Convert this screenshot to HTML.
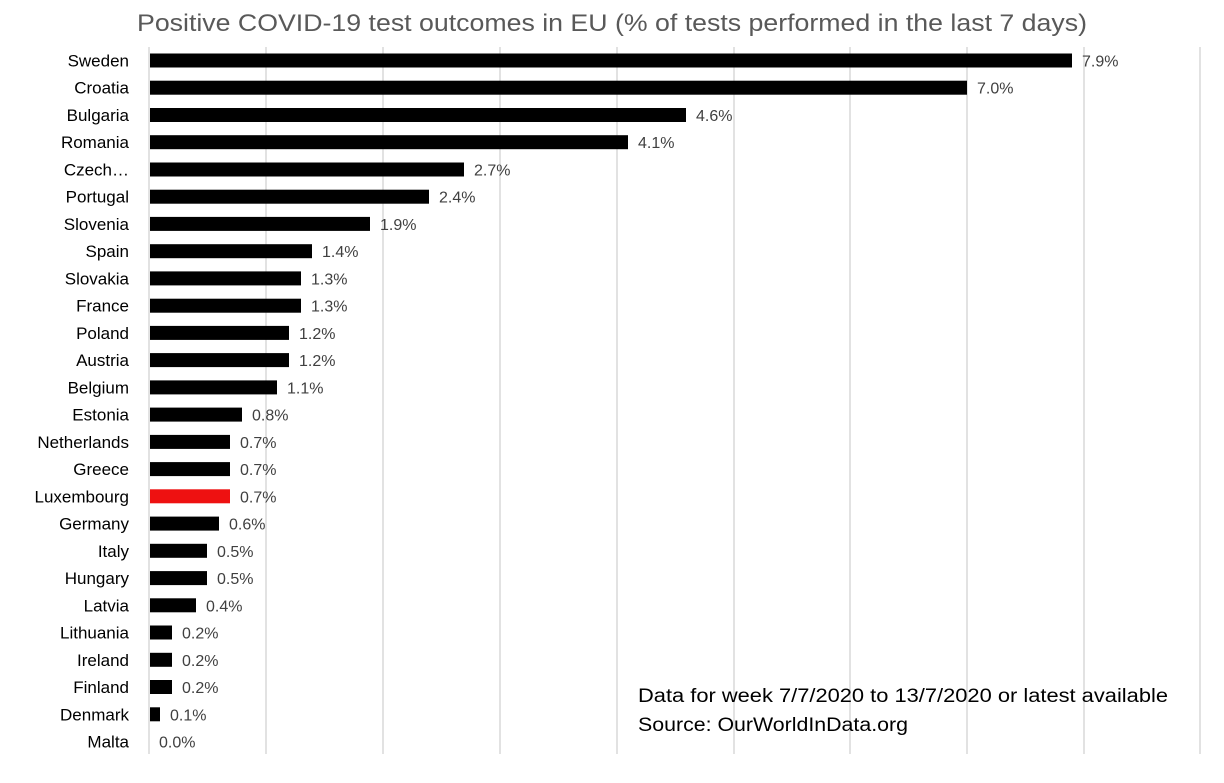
<!DOCTYPE html>
<html><head><meta charset="utf-8"><style>
body{margin:0;background:#fff;}
svg text{font-family:"Liberation Sans",sans-serif;}
.l{font-size:17px;fill:#000;text-anchor:end}
.v{font-size:16px;fill:#404040}
</style></head><body>
<svg width="1224" height="778" xmlns="http://www.w3.org/2000/svg">
<rect width="1224" height="778" fill="#fff"/>
<text x="137" y="31" font-size="24" fill="#595959" textLength="950" lengthAdjust="spacingAndGlyphs">Positive COVID-19 test outcomes in EU (% of tests performed in the last 7 days)</text>
<g stroke="#d9d9d9" stroke-width="1.5">
<line x1="149" y1="47" x2="149" y2="754"/><line x1="266" y1="47" x2="266" y2="754"/><line x1="383" y1="47" x2="383" y2="754"/><line x1="500" y1="47" x2="500" y2="754"/><line x1="617" y1="47" x2="617" y2="754"/><line x1="734" y1="47" x2="734" y2="754"/><line x1="850" y1="47" x2="850" y2="754"/><line x1="967" y1="47" x2="967" y2="754"/><line x1="1084" y1="47" x2="1084" y2="754"/><line x1="1200" y1="47" x2="1200" y2="754"/>
</g>
<g fill="#000">
<rect x="150" y="53.5" width="922" height="14"/>
<rect x="150" y="80.7" width="817" height="14"/>
<rect x="150" y="108" width="536" height="14"/>
<rect x="150" y="135.2" width="478" height="14"/>
<rect x="150" y="162.5" width="314" height="14"/>
<rect x="150" y="189.7" width="279" height="14"/>
<rect x="150" y="216.9" width="220" height="14"/>
<rect x="150" y="244.2" width="162" height="14"/>
<rect x="150" y="271.4" width="151" height="14"/>
<rect x="150" y="298.7" width="151" height="14"/>
<rect x="150" y="325.9" width="139" height="14"/>
<rect x="150" y="353.1" width="139" height="14"/>
<rect x="150" y="380.4" width="127" height="14"/>
<rect x="150" y="407.6" width="92" height="14"/>
<rect x="150" y="434.9" width="80" height="14"/>
<rect x="150" y="462.1" width="80" height="14"/>
<rect x="150" y="489.3" width="80" height="14" fill="#ee1111"/>
<rect x="150" y="516.6" width="69" height="14"/>
<rect x="150" y="543.8" width="57" height="14"/>
<rect x="150" y="571.1" width="57" height="14"/>
<rect x="150" y="598.3" width="46" height="14"/>
<rect x="150" y="625.5" width="22" height="14"/>
<rect x="150" y="652.8" width="22" height="14"/>
<rect x="150" y="680" width="22" height="14"/>
<rect x="150" y="707.3" width="10" height="14"/>
</g>
<text class="l" x="129" y="66.5">Sweden</text><text class="v" x="1082" y="66.5">7.9%</text>
<text class="l" x="129" y="93.7">Croatia</text><text class="v" x="977" y="93.7">7.0%</text>
<text class="l" x="129" y="121">Bulgaria</text><text class="v" x="696" y="121">4.6%</text>
<text class="l" x="129" y="148.2">Romania</text><text class="v" x="638" y="148.2">4.1%</text>
<text class="l" x="129" y="175.5">Czech…</text><text class="v" x="474" y="175.5">2.7%</text>
<text class="l" x="129" y="202.7">Portugal</text><text class="v" x="439" y="202.7">2.4%</text>
<text class="l" x="129" y="229.9">Slovenia</text><text class="v" x="380" y="229.9">1.9%</text>
<text class="l" x="129" y="257.2">Spain</text><text class="v" x="322" y="257.2">1.4%</text>
<text class="l" x="129" y="284.4">Slovakia</text><text class="v" x="311" y="284.4">1.3%</text>
<text class="l" x="129" y="311.7">France</text><text class="v" x="311" y="311.7">1.3%</text>
<text class="l" x="129" y="338.9">Poland</text><text class="v" x="299" y="338.9">1.2%</text>
<text class="l" x="129" y="366.1">Austria</text><text class="v" x="299" y="366.1">1.2%</text>
<text class="l" x="129" y="393.4">Belgium</text><text class="v" x="287" y="393.4">1.1%</text>
<text class="l" x="129" y="420.6">Estonia</text><text class="v" x="252" y="420.6">0.8%</text>
<text class="l" x="129" y="447.9">Netherlands</text><text class="v" x="240" y="447.9">0.7%</text>
<text class="l" x="129" y="475.1">Greece</text><text class="v" x="240" y="475.1">0.7%</text>
<text class="l" x="129" y="502.3">Luxembourg</text><text class="v" x="240" y="502.3">0.7%</text>
<text class="l" x="129" y="529.6">Germany</text><text class="v" x="229" y="529.6">0.6%</text>
<text class="l" x="129" y="556.8">Italy</text><text class="v" x="217" y="556.8">0.5%</text>
<text class="l" x="129" y="584.1">Hungary</text><text class="v" x="217" y="584.1">0.5%</text>
<text class="l" x="129" y="611.3">Latvia</text><text class="v" x="206" y="611.3">0.4%</text>
<text class="l" x="129" y="638.5">Lithuania</text><text class="v" x="182" y="638.5">0.2%</text>
<text class="l" x="129" y="665.8">Ireland</text><text class="v" x="182" y="665.8">0.2%</text>
<text class="l" x="129" y="693">Finland</text><text class="v" x="182" y="693">0.2%</text>
<text class="l" x="129" y="720.3">Denmark</text><text class="v" x="170" y="720.3">0.1%</text>
<text class="l" x="129" y="747.5">Malta</text><text class="v" x="159" y="747.5">0.0%</text>
<text x="638" y="702" font-size="19" fill="#000" textLength="530" lengthAdjust="spacingAndGlyphs">Data for week 7/7/2020 to 13/7/2020 or latest available</text>
<text x="638" y="731" font-size="19" fill="#000" textLength="270" lengthAdjust="spacingAndGlyphs">Source: OurWorldInData.org</text>
</svg>
</body></html>
